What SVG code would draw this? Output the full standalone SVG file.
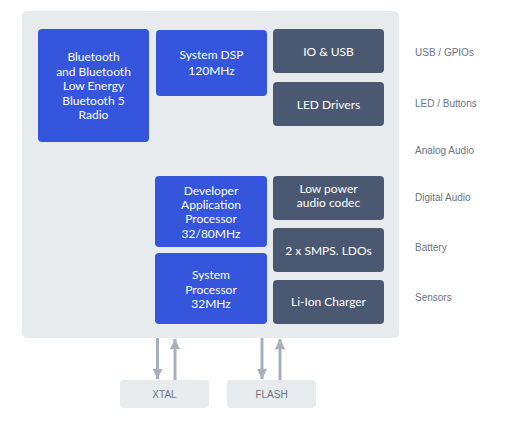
<svg xmlns="http://www.w3.org/2000/svg" width="527" height="422" viewBox="0 0 527 422">
<style>
.panel{fill:#e8ebee}
.blue{fill:#3455dc}
.dark{fill:#4a5872}
.ext{fill:#e8ebee}
.nt{font-family:"Lato","Noto Sans","Liberation Sans",sans-serif;font-size:12px;fill:#ffffff;text-anchor:middle}
.lbl{font-family:"Liberation Sans","Noto Sans",sans-serif;font-size:10px;fill:#6b7585}
.et{font-family:"Liberation Sans","Noto Sans",sans-serif;font-size:10px;fill:#6b7585;text-anchor:middle}
.arr{stroke:#a9b0bc;stroke-width:3;fill:none}
</style>
<defs>
<marker id="ah" viewBox="0 0 11 10" refX="10" refY="5" markerWidth="11" markerHeight="10" markerUnits="userSpaceOnUse" orient="auto">
<path d="M0,0 L10,5 L0,10 Z" fill="#a9b0bc"/>
</marker>
</defs>
<rect class="panel" x="22" y="11" width="377" height="327" rx="5"/>
<g id="bluetooth">
<rect class="blue" x="38" y="29" width="111" height="113" rx="4"/>
<text class="nt" x="93.5" y="61">Bluetooth</text>
<text class="nt" x="93.5" y="75.6">and Bluetooth</text>
<text class="nt" x="93.5" y="90.2">Low Energy</text>
<text class="nt" x="93.5" y="104.8">Bluetooth 5</text>
<text class="nt" x="93.5" y="119.4">Radio</text>
</g>
<g id="dsp">
<rect class="blue" x="156" y="30" width="111" height="66" rx="4"/>
<text class="nt" x="211.5" y="59">System DSP</text>
<text class="nt" x="211.5" y="75">120MHz</text>
</g>
<g id="io-usb">
<rect class="dark" x="273" y="29" width="111" height="44" rx="4"/>
<text class="nt" x="328.5" y="55.5">IO &amp; USB</text>
</g>
<g id="led-drivers">
<rect class="dark" x="273" y="82" width="111" height="44" rx="4"/>
<text class="nt" x="328.5" y="108.5">LED Drivers</text>
</g>
<g id="dev-app">
<rect class="blue" x="155" y="176" width="112" height="71" rx="4"/>
<text class="nt" x="211" y="195">Developer</text>
<text class="nt" x="211" y="209.2">Application</text>
<text class="nt" x="211" y="223.4">Processor</text>
<text class="nt" x="211" y="237.6">32/80MHz</text>
</g>
<g id="sys-proc">
<rect class="blue" x="155" y="253" width="112" height="71" rx="4"/>
<text class="nt" x="211" y="279">System</text>
<text class="nt" x="211" y="293.6">Processor</text>
<text class="nt" x="211" y="308.2">32MHz</text>
</g>
<g id="codec">
<rect class="dark" x="273" y="176" width="111" height="44" rx="4"/>
<text class="nt" x="328.5" y="193.3">Low power</text>
<text class="nt" x="328.5" y="207.3">audio codec</text>
</g>
<g id="smps">
<rect class="dark" x="273" y="228" width="111" height="44" rx="4"/>
<text class="nt" x="328.5" y="254.5">2 x SMPS. LDOs</text>
</g>
<g id="charger">
<rect class="dark" x="273" y="280" width="111" height="44" rx="4"/>
<text class="nt" x="328.5" y="306">Li-Ion Charger</text>
</g>
<g id="labels">
<text class="lbl" x="415" y="55.5">USB / GPIOs</text>
<text class="lbl" x="415" y="106.5">LED / Buttons</text>
<text class="lbl" x="415" y="154">Analog Audio</text>
<text class="lbl" x="415" y="200.5">Digital Audio</text>
<text class="lbl" x="415" y="251">Battery</text>
<text class="lbl" x="415" y="301">Sensors</text>
</g>
<g id="xtal">
<rect class="ext" x="120" y="380" width="89" height="28" rx="4"/>
<text class="et" x="164.5" y="397.5">XTAL</text>
</g>
<g id="flash">
<rect class="ext" x="227" y="380" width="89" height="28" rx="4"/>
<text class="et" x="271.5" y="397.5">FLASH</text>
</g>
<g id="connectors">
<line class="arr" x1="157.5" y1="338" x2="157.5" y2="379" marker-end="url(#ah)"/>
<line class="arr" x1="175" y1="380" x2="175" y2="339" marker-end="url(#ah)"/>
<line class="arr" x1="262" y1="338" x2="262" y2="379" marker-end="url(#ah)"/>
<line class="arr" x1="280" y1="380" x2="280" y2="339" marker-end="url(#ah)"/>
</g>
</svg>
